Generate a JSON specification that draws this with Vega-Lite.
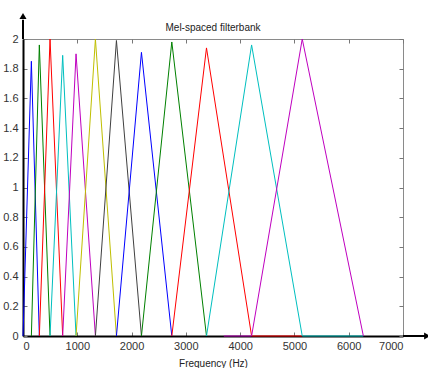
{
  "$schema": "https://vega.github.io/schema/vega-lite/v6.json",
  "width": 380,
  "height": 297,
  "autosize": {"type": "none"},
  "padding": {"left": 23, "top": 39, "right": 25, "bottom": 32},
  "background": "white",
  "title": {"text": "Mel-spaced filterbank", "fontSize": 10, "fontWeight": "normal", "font": "Liberation Sans", "color": "#222", "offset": -20},
  "config": {
    "view": {"stroke": "#8a8a8a", "strokeWidth": 1},
    "axis": {"labelFont": "Liberation Sans", "labelFontSize": 11, "labelColor": "#333", "titleFont": "Liberation Sans", "titleFontSize": 10, "titleFontWeight": "normal", "titleColor": "#222", "grid": false, "tickColor": "#777", "tickSize": -4, "tickWidth": 1}
  },
  "datasets": {
    "filters": [
      {"filter": 1, "x": 0, "y": 0}, {"filter": 1, "x": 154, "y": 1.85}, {"filter": 1, "x": 301, "y": 0},
      {"filter": 2, "x": 154, "y": 0}, {"filter": 2, "x": 301, "y": 1.96}, {"filter": 2, "x": 498, "y": 0},
      {"filter": 3, "x": 301, "y": 0}, {"filter": 3, "x": 498, "y": 2.0}, {"filter": 3, "x": 731, "y": 0},
      {"filter": 4, "x": 498, "y": 0}, {"filter": 4, "x": 731, "y": 1.89}, {"filter": 4, "x": 977, "y": 0},
      {"filter": 5, "x": 731, "y": 0}, {"filter": 5, "x": 977, "y": 1.9}, {"filter": 5, "x": 1334, "y": 0},
      {"filter": 6, "x": 977, "y": 0}, {"filter": 6, "x": 1334, "y": 2.0}, {"filter": 6, "x": 1721, "y": 0},
      {"filter": 7, "x": 1334, "y": 0}, {"filter": 7, "x": 1721, "y": 1.99}, {"filter": 7, "x": 2182, "y": 0},
      {"filter": 8, "x": 1721, "y": 0}, {"filter": 8, "x": 2182, "y": 1.91}, {"filter": 8, "x": 2741, "y": 0},
      {"filter": 9, "x": 2182, "y": 0}, {"filter": 9, "x": 2741, "y": 1.98}, {"filter": 9, "x": 3380, "y": 0},
      {"filter": 10, "x": 2741, "y": 0}, {"filter": 10, "x": 3380, "y": 1.94}, {"filter": 10, "x": 4211, "y": 0}, {"filter": 10, "x": 5144, "y": 0},
      {"filter": 11, "x": 3380, "y": 0}, {"filter": 11, "x": 4211, "y": 1.96}, {"filter": 11, "x": 5144, "y": 0}, {"filter": 11, "x": 6270, "y": 0},
      {"filter": 12, "x": 3700, "y": 0}, {"filter": 12, "x": 4211, "y": 0}, {"filter": 12, "x": 5144, "y": 2.0}, {"filter": 12, "x": 6270, "y": 0}
    ]
  },
  "layer": [
    {
      "data": {"name": "filters"},
      "mark": {"type": "line", "strokeWidth": 1},
      "encoding": {
        "x": {"field": "x", "type": "quantitative", "scale": {"domain": [0, 7000], "nice": false},
          "axis": {"orient": "bottom", "values": [0, 1000, 2000, 3000, 4000, 5000, 6000, 7000], "format": "d", "domainColor": "#000", "domainWidth": 2, "labelPadding": 8, "title": "Frequency (Hz)", "titlePadding": 7}},
        "y": {"field": "y", "type": "quantitative", "scale": {"domain": [0, 2], "nice": false},
          "axis": {"orient": "left", "values": [0, 0.2, 0.4, 0.6, 0.8, 1, 1.2, 1.4, 1.6, 1.8, 2], "format": "~g", "domainColor": "#000", "domainWidth": 2, "labelPadding": 9, "title": null}},
        "color": {"field": "filter", "type": "nominal", "legend": null,
          "scale": {"domain": [1,2,3,4,5,6,7,8,9,10,11,12], "range": ["#0000ff", "#008000", "#ff0000", "#00bfbf", "#bf00bf", "#bfbf00", "#404040", "#0000ff", "#008000", "#ff0000", "#00bfbf", "#bf00bf"]}},
        "detail": {"field": "filter", "type": "nominal"}
      }
    },
    {
      "data": {"values": [{}]},
      "mark": {"type": "rule", "color": "#000", "strokeWidth": 2},
      "encoding": {
        "x": {"datum": 0, "type": "quantitative", "scale": {"domain": [0, 7000], "nice": false},
          "axis": {"orient": "top", "values": [0, 1000, 2000, 3000, 4000, 5000, 6000, 7000], "labels": false, "domain": false, "title": null}},
        "y": {"datum": 2, "type": "quantitative", "scale": {"domain": [0, 2], "nice": false},
          "axis": {"orient": "right", "values": [0, 0.2, 0.4, 0.6, 0.8, 1, 1.2, 1.4, 1.6, 1.8, 2], "labels": false, "domain": false, "title": null}},
        "y2": {"datum": 2.13}
      }
    },
    {
      "data": {"values": [{}]},
      "mark": {"type": "rule", "color": "#000", "strokeWidth": 2},
      "encoding": {
        "x": {"datum": 7000, "type": "quantitative", "axis": null},
        "x2": {"datum": 7420},
        "y": {"datum": 0, "type": "quantitative", "axis": null}
      }
    },
    {
      "data": {"values": [{}]},
      "mark": {"type": "point", "shape": "triangle-up", "filled": true, "color": "#000", "opacity": 1, "size": 50},
      "encoding": {
        "x": {"datum": 0, "type": "quantitative", "axis": null},
        "y": {"datum": 2.155, "type": "quantitative", "axis": null}
      }
    },
    {
      "data": {"values": [{}]},
      "mark": {"type": "point", "shape": "triangle-right", "filled": true, "color": "#000", "opacity": 1, "size": 50},
      "encoding": {
        "x": {"datum": 7445, "type": "quantitative", "axis": null},
        "y": {"datum": 0, "type": "quantitative", "axis": null}
      }
    }
  ]
}
